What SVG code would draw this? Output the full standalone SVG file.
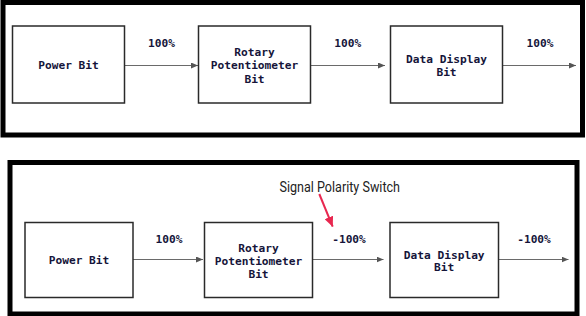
<svg xmlns="http://www.w3.org/2000/svg" width="586" height="316" viewBox="0 0 586 316">
<style>
.frame{fill:none;stroke:#000;stroke-width:5}
.node rect{fill:#fff;stroke:#2a2a2a;stroke-width:1.5}
.lbl{font-family:"DejaVu Sans Mono","Liberation Mono",monospace;font-weight:bold;font-size:11.2px;fill:#15153a;text-anchor:middle}
.edge{stroke:#6a6a6a;stroke-width:1;fill:none;marker-end:url(#ah)}
.note{font-family:Roboto,"Noto Sans",sans-serif;font-size:14px;fill:#222}
</style>
<defs>
<marker id="ah" markerWidth="8" markerHeight="6" refX="7" refY="3" orient="auto" markerUnits="userSpaceOnUse">
<path d="M0,0 L7,3 L0,6 Z" fill="#555"/>
</marker>
<marker id="rh" markerWidth="11" markerHeight="9" refX="10" refY="4.5" orient="auto" markerUnits="userSpaceOnUse">
<path d="M0,0 L10,4.5 L0,9 Z" fill="#e8274f"/>
</marker>
</defs>
<rect width="586" height="316" fill="#fff"/>
<rect class="frame" x="3" y="2.5" width="579.5" height="132.5"/>
<rect class="frame" x="10" y="162.5" width="567" height="151.5"/>

<g id="connectors">
<line class="edge" x1="124.5" y1="65.5" x2="198" y2="65.5"/>
<line class="edge" x1="310.5" y1="65.5" x2="385" y2="65.5"/>
<line class="edge" x1="502.5" y1="65.5" x2="576" y2="65.5"/>
<text class="lbl" x="161.5" y="47">100%</text>
<text class="lbl" x="347.7" y="47">100%</text>
<text class="lbl" x="540" y="47">100%</text>
<line class="edge" x1="133" y1="259.5" x2="203" y2="259.5"/>
<line class="edge" x1="312.5" y1="259.5" x2="383.5" y2="259.5"/>
<line class="edge" x1="498.5" y1="259.5" x2="568.5" y2="259.5"/>
<text class="lbl" x="169" y="243">100%</text>
<text class="lbl" x="349" y="243">-100%</text>
<text class="lbl" x="534" y="243">-100%</text>
<line x1="319.3" y1="194" x2="332.7" y2="226.7" stroke="#e8274f" stroke-width="2" marker-end="url(#rh)"/>
</g>

<text class="note" x="279.5" y="191.5" textLength="120.5" lengthAdjust="spacingAndGlyphs">Signal Polarity Switch</text>

<g id="top-power" class="node">
<rect x="12.5" y="26" width="112" height="77"/>
<text class="lbl" x="68.5" y="69">Power Bit</text>
</g>
<g id="top-rotary" class="node">
<rect x="198.5" y="26" width="112" height="77"/>
<text class="lbl" x="254.5" y="56">Rotary</text>
<text class="lbl" x="254.5" y="69.4">Potentiometer</text>
<text class="lbl" x="254.5" y="82.8">Bit</text>
</g>
<g id="top-display" class="node">
<rect x="390.5" y="26" width="112" height="77"/>
<text class="lbl" x="446.5" y="63">Data Display</text>
<text class="lbl" x="446.5" y="75.8">Bit</text>
</g>

<g id="bot-power" class="node">
<rect x="25" y="222.5" width="108" height="75"/>
<text class="lbl" x="79" y="264">Power Bit</text>
</g>
<g id="bot-rotary" class="node">
<rect x="204.5" y="222.5" width="108" height="75"/>
<text class="lbl" x="258.5" y="251.8">Rotary</text>
<text class="lbl" x="258.5" y="264.7">Potentiometer</text>
<text class="lbl" x="258.5" y="277.5">Bit</text>
</g>
<g id="bot-display" class="node">
<rect x="390" y="222.5" width="108.5" height="75"/>
<text class="lbl" x="444.2" y="258.5">Data Display</text>
<text class="lbl" x="444.2" y="271">Bit</text>
</g>
</svg>
